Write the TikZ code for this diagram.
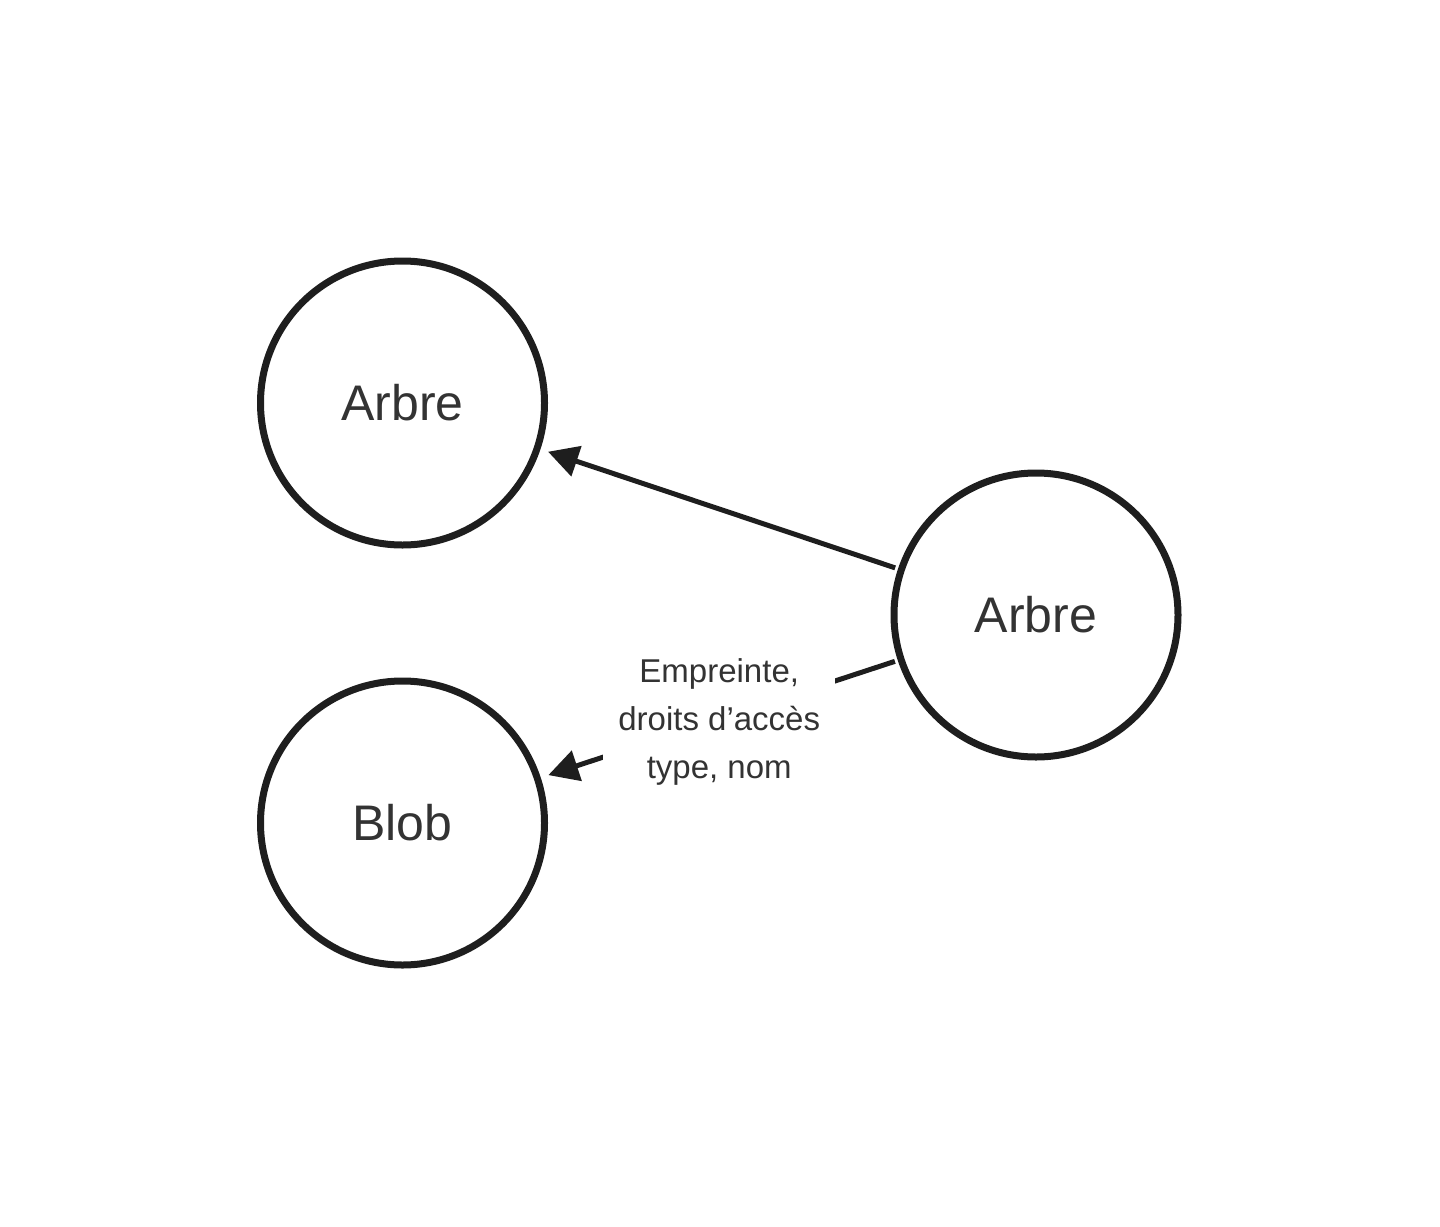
\documentclass[tikz,border=0pt]{standalone}
\usepackage{fontspec}
\setmainfont{Liberation Sans}
\usetikzlibrary{arrows.meta}
\definecolor{ink}{HTML}{1E1E1E}
\definecolor{txt}{HTML}{333333}
\begin{document}
\begin{tikzpicture}[x=1pt,y=-1pt,
  obj/.style={circle,draw=ink,line width=7pt,minimum size=284pt,inner sep=0pt,
    text=txt,font=\fontsize{50}{60}\selectfont},
  conn/.style={draw=ink,line width=5pt,-{Triangle[length=30pt,width=31pt]},
    shorten <=3pt,shorten >=8pt},
  lbl/.style={fill=white,text=txt,align=center,inner xsep=15pt,inner ysep=4pt,
    font=\fontsize{33}{48}\selectfont},
  ]
\useasboundingbox (0,0) rectangle (1440,1226);
\node[obj] (tl) at (402.5,403) {Arbre};
\node[obj] (bl) at (402.5,823) {Blob};
\node[obj] (r) at (1036,615) {Arbre};
\draw[conn] (r) -- (tl);
\draw[conn] (r) -- node[lbl,yshift=-3pt] (l) {Empreinte,\\droits d’accès\\type, nom} (bl);
\end{tikzpicture}
\end{document}
